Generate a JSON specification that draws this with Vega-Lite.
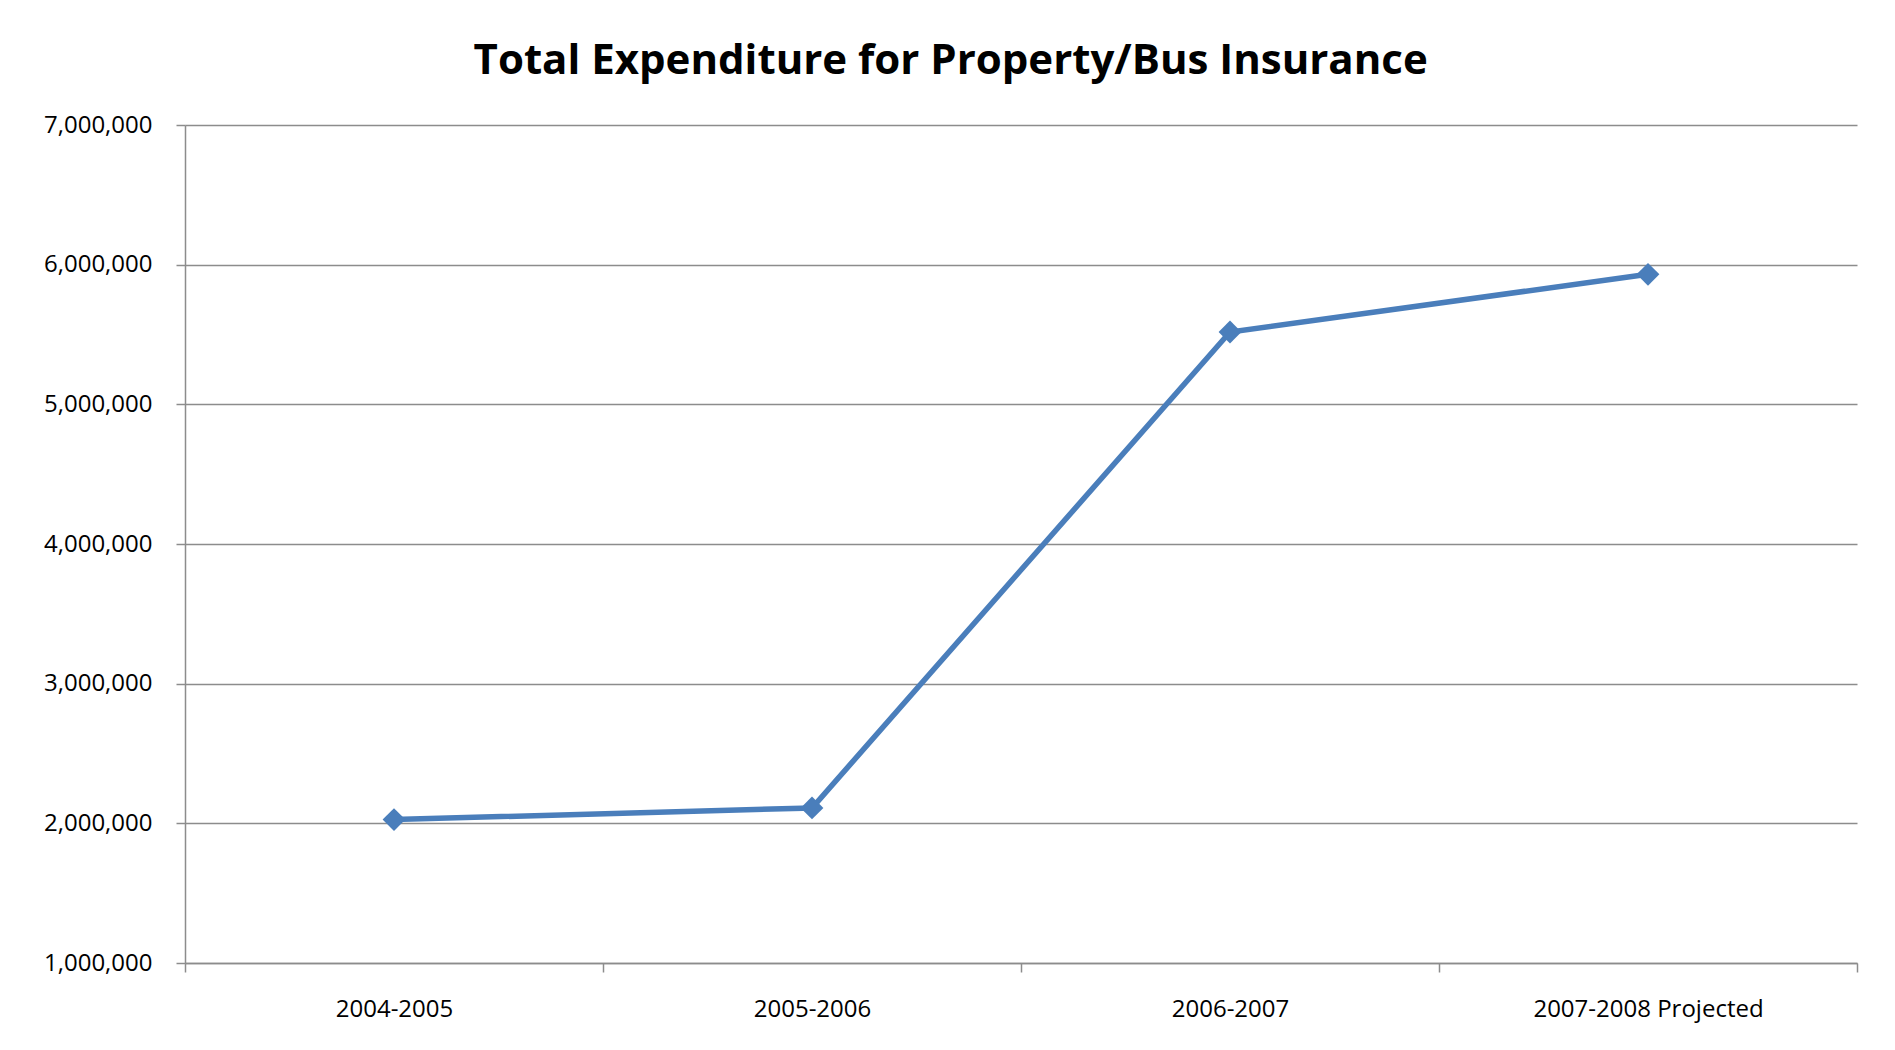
{
  "$schema": "https://vega.github.io/schema/vega-lite/v6.json",
  "width": 1672,
  "height": 838,
  "autosize": {"type": "none"},
  "padding": {"left": 185, "top": 125, "right": 38, "bottom": 87},
  "background": "white",
  "title": {
    "text": "Total Expenditure for Property/Bus Insurance",
    "font": "Open Sans",
    "fontWeight": "bold",
    "fontSize": 42,
    "color": "black",
    "anchor": "middle",
    "frame": "bounds",
    "offset": 30
  },
  "data": {
    "values": [
      {"year": "2004-2005", "amount": 2027000},
      {"year": "2005-2006", "amount": 2110000},
      {"year": "2006-2007", "amount": 5518000},
      {"year": "2007-2008 Projected", "amount": 5931000}
    ]
  },
  "encoding": {
    "x": {
      "field": "year",
      "type": "nominal",
      "sort": null,
      "scale": {"type": "band", "paddingInner": 0, "paddingOuter": 0},
      "axis": {
        "title": null,
        "labelAngle": 0,
        "labelLimit": 0,
        "tickBand": "extent",
        "grid": false,
        "tickSize": 9,
        "labelPadding": 25,
        "domainColor": "#8c8c8c",
        "domainWidth": 1.5,
        "tickColor": "#8c8c8c",
        "tickWidth": 1.5
      }
    },
    "y": {
      "field": "amount",
      "type": "quantitative",
      "scale": {"domain": [1000000, 7000000], "nice": false, "zero": false},
      "axis": {
        "title": null,
        "values": [1000000, 2000000, 3000000, 4000000, 5000000, 6000000, 7000000],
        "format": ",d",
        "grid": true,
        "gridColor": "#8c8c8c",
        "gridWidth": 1.5,
        "tickSize": 9,
        "labelPadding": 24,
        "domainColor": "#8c8c8c",
        "domainWidth": 1.5,
        "tickColor": "#8c8c8c",
        "tickWidth": 1.5
      }
    }
  },
  "layer": [
    {"mark": {"type": "line", "color": "#4A7EBB", "strokeWidth": 5.5}},
    {"mark": {"type": "point", "shape": "diamond", "filled": true, "size": 520, "color": "#4A7EBB", "opacity": 1}}
  ],
  "config": {
    "view": {"stroke": null},
    "axis": {
      "labelFont": "Open Sans",
      "labelFontSize": 24,
      "labelColor": "black"
    }
  }
}
